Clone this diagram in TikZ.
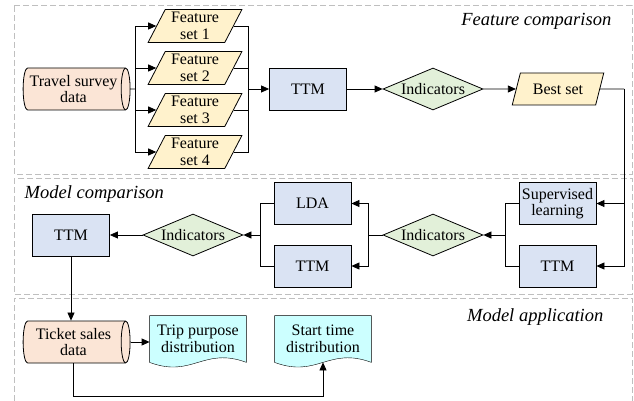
\documentclass[tikz,border=0pt]{standalone}
\usepackage{fontspec}
\setmainfont{Liberation Serif}
\usetikzlibrary{shapes.geometric, arrows.meta, positioning, backgrounds}

\definecolor{peach}{HTML}{FBE5D6}
\definecolor{sand}{HTML}{FFF2CC}
\definecolor{paleblue}{HTML}{DAE3F3}
\definecolor{palegreen}{HTML}{E2F0D9}
\definecolor{palecyan}{HTML}{CCFFFF}

\begin{document}
\begin{tikzpicture}[x=1pt, y=-1pt, line width=0.8pt,
    font=\fontsize{16}{16.5}\selectfont,
    region/.style={draw=black!25, line width=1pt, dash pattern=on 6pt off 3pt},
    caption/.style={font=\fontsize{18.5}{20}\selectfont\itshape},
    process/.style={draw, fill=paleblue, minimum width=77pt, minimum height=42pt, align=center, inner sep=1pt},
    dataio/.style={trapezium, trapezium left angle=63, trapezium right angle=117, trapezium stretches=true,
        draw, fill=sand, minimum width=94pt, minimum height=33pt, align=center, inner sep=0pt},
    decision/.style={diamond, draw, fill=palegreen, aspect=2.38, minimum width=100pt, minimum height=42pt, inner sep=-3pt},
    store/.style={cylinder, draw, fill=peach, aspect=0.3, minimum width=42pt, minimum height=107pt, align=center, inner sep=1pt},
    doc/.style={minimum width=96pt, minimum height=46pt, align=center, inner sep=1pt},
    flow/.style={-{Triangle[length=8pt, width=7pt]}}]
\useasboundingbox (0,0) rectangle (634,401);

% the three stages
\draw[region] (14,6) rectangle (632,174);
\draw[region] (14,178) rectangle (632,294);
\draw[region] (14,410) |- (632,298) -- (632,410);
\node[caption, anchor=base east] (fcmp) at (615,26) {Feature comparison};
\node[caption, anchor=base west] (mcmp) at (21,198) {Model comparison};
\node[caption, anchor=base east] (mapp) at (607,321) {Model application};

% feature comparison
\node[store] (survey) at (73.5,89) {Travel survey\\data};
\foreach \i/\y in {1/26,2/68,3/110,4/152}
    \node[dataio] (fs\i) at (195,\y) {Feature\\set \i};
\node[process] (ttmA) at (308,89) {TTM};
\node[decision] (indA) at (433,89) {Indicators};
\node[dataio, minimum width=92pt, minimum height=32pt] (best) at (558,89) {Best set};

% model comparison
\node[process] (super) at (557.5,203.5) {Supervised\\learning};
\node[process] (ttmB) at (557.5,266) {TTM};
\node[decision] (indB) at (433,235) {Indicators};
\node[process] (lda) at (312.5,203.5) {LDA};
\node[process] (ttmC) at (312.5,266) {TTM};
\node[decision] (indC) at (193,235) {Indicators};
\node[process] (ttmD) at (71,235) {TTM};

% model application
\node[store] (sales) at (73.5,342) {Ticket sales\\data};
\node[doc] (purpose) at (198,339) {Trip purpose\\distribution};
\node[doc] (start) at (323,339) {Start time\\distribution};
\begin{scope}[on background layer]
    \foreach \d in {purpose, start}
        \filldraw[fill=palecyan] (\d.south west) .. controls +(43,16) and +(-43,-16) .. (\d.south east)
            -- (\d.north east) -- (\d.north west) -- cycle;
\end{scope}

% branch points
\coordinate (fork) at (135,89);
\coordinate (merge) at (248,89);
\coordinate (drop) at (624,89);
\coordinate (joinB) at (505,235);
\coordinate (forkC) at (368,235);
\coordinate (joinC) at (260,235);
\coordinate (floor) at (0,396);

\draw (survey.east) -- (fork);
\foreach \i in {1,...,4} {
    \draw[flow] (fork) |- (fs\i.west);
    \draw (fs\i.east) -| (merge);
}
\draw[flow] (merge) -- (ttmA);
\draw[flow] (ttmA) -- (indA);
\draw[flow] (indA) -- (best);
\draw (best.east) -- (drop);
\draw[flow] (drop) |- (super.east);
\draw[flow] (drop) |- (ttmB.east);
\draw (super.west) -| (joinB);
\draw (ttmB.west) -| (joinB);
\draw[flow] (joinB) -- (indB.east);
\draw (indB.west) -- (forkC);
\draw[flow] (forkC) |- (lda.east);
\draw[flow] (forkC) |- (ttmC.east);
\draw (lda.west) -| (joinC);
\draw (ttmC.west) -| (joinC);
\draw[flow] (joinC) -- (indC.east);
\draw[flow] (indC.west) -- (ttmD.east);
\draw[flow] (ttmD.south) -- (ttmD.south |- sales.north);
\draw[flow] (sales.east) -- (sales.east -| purpose.west);
\draw[flow] (sales.south) -- (sales.south |- floor) -| (start.south);
\end{tikzpicture}
\end{document}
